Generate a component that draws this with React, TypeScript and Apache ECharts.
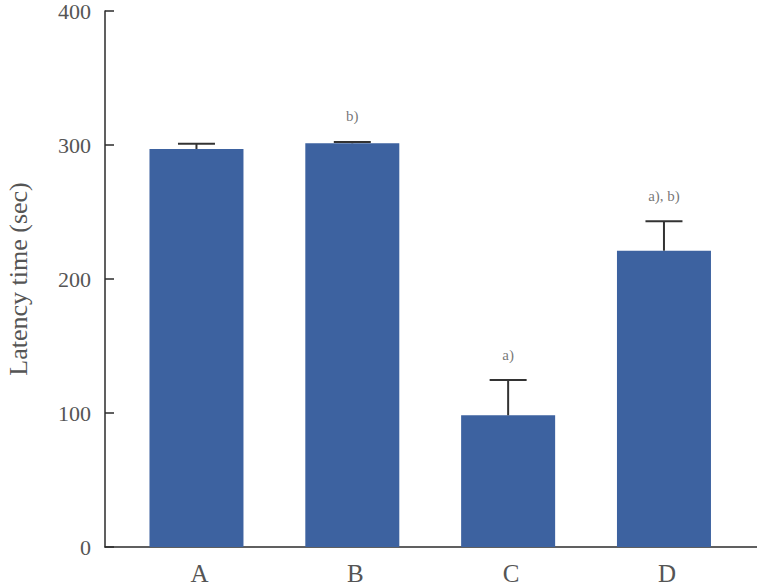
import React, { useEffect, useRef } from "react";
import * as echarts from "echarts";

const categories = ["A", "B", "C", "D"];
const means = [297, 301.3, 98.3, 221.1];
const errors = [4, 1, 26.3, 22];
const annotations = ["", "b)", "a)", "a), b)"];
const yTicks = [0, 100, 200, 300, 400];

const FONT = "'Liberation Serif', 'DejaVu Serif', serif";
const TEXT = "#555555";
const AXIS = "#2b2b2b";
const BAR = "#3D62A0";

export default function App() {
  const ref = useRef<HTMLDivElement>(null);
  useEffect(() => {
    if (!ref.current) return;
    const chart = echarts.init(ref.current, null, { renderer: "svg" });
    const barData = means.map((m, i) => [i, m]);
    const errData = means.map((m, i) => [i, m, m + errors[i]]);
    const annData = means
      .map((m, i) => ({ value: [i, m + errors[i]], label: { formatter: annotations[i] } }))
      .filter((d, i) => annotations[i] !== "");
    chart.setOption({
      animation: false,
      grid: {
        left: 105,
        right: 0,
        top: 11,
        bottom: 39,
        containLabel: false,
        outerBoundsMode: "none",
      },
      xAxis: {
        type: "value",
        min: -0.587,
        max: 3.597,
        splitLine: { show: false },
        axisTick: { show: false },
        axisLine: { show: true, onZero: false, lineStyle: { color: AXIS, width: 1.5 } },
        axisLabel: {
          customValues: [0, 1, 2, 3],
          formatter: (v: number) => categories[Math.round(v)] ?? "",
          color: TEXT,
          fontFamily: FONT,
          fontSize: 25,
          margin: 14,
          padding: [0, 0, 0, 6],
        },
      },
      yAxis: {
        type: "value",
        min: yTicks[0],
        max: yTicks[yTicks.length - 1],
        interval: 100,
        name: "Latency time (sec)",
        nameLocation: "middle",
        nameGap: 74,
        nameTextStyle: { color: TEXT, fontFamily: FONT, fontSize: 26 },
        splitLine: { show: false },
        axisLine: { show: true, onZero: false, lineStyle: { color: AXIS, width: 1.5 } },
        axisTick: { show: true, inside: true, length: 9, lineStyle: { color: AXIS, width: 1.5 } },
        axisLabel: { color: TEXT, fontFamily: FONT, fontSize: 22, margin: 14 },
      },
      series: [
        {
          type: "bar",
          data: barData,
          barWidth: 94,
          itemStyle: { color: BAR },
        },
        {
          type: "custom",
          data: errData,
          z: 5,
          renderItem: (params: any, api: any) => {
            const x = api.value(0);
            const lo = api.coord([x, api.value(1)]);
            const hi = api.coord([x, api.value(2)]);
            const hw = 18.5;
            const style = { stroke: "#333333", lineWidth: 2 };
            return {
              type: "group",
              children: [
                { type: "line", shape: { x1: lo[0], y1: lo[1], x2: hi[0], y2: hi[1] }, style },
                { type: "line", shape: { x1: hi[0] - hw, y1: hi[1], x2: hi[0] + hw, y2: hi[1] }, style },
              ],
            };
          },
        },
        {
          type: "scatter",
          data: annData,
          symbolSize: 0,
          z: 6,
          label: {
            show: true,
            position: "top",
            distance: 18,
            color: TEXT,
            fontFamily: FONT,
            fontSize: 15,
          },
        },
      ],
    });
    return () => chart.dispose();
  }, []);
  return (
    <div
      ref={ref}
      style={{ position: "absolute", left: 0, top: 0, width: 757, height: 586, background: "#fff" }}
    />
  );
}
